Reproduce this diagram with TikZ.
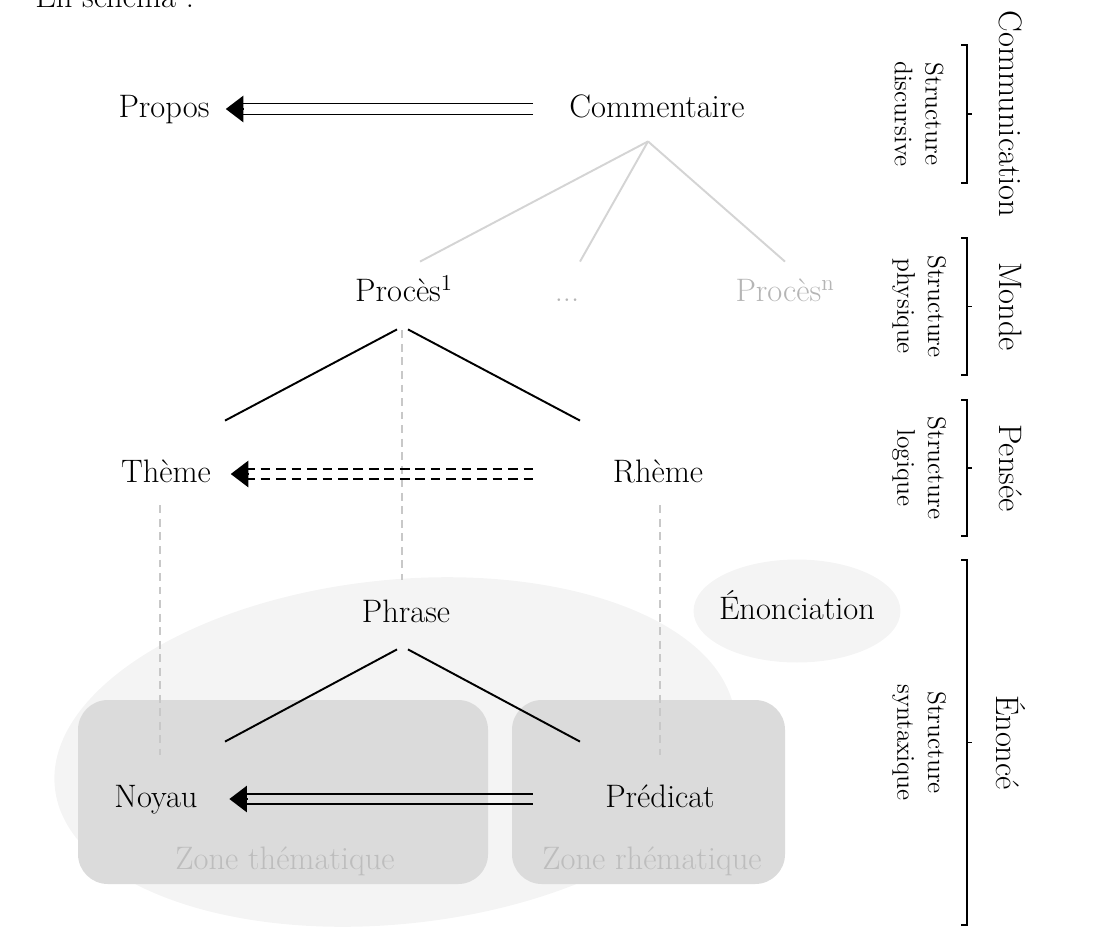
\documentclass[tikz,border=0pt]{standalone}
\usepackage{fontspec}
\usepackage{tikz}
\usetikzlibrary{arrows.meta,calc,shapes.geometric}

\definecolor{bggray}{HTML}{F4F4F4}
\definecolor{zonegray}{HTML}{DBDBDB}
\definecolor{zonetext}{HTML}{BDBDBD}
\definecolor{linegray}{HTML}{D4D4D4}
\definecolor{dashgray}{HTML}{C8C8C8}
\definecolor{fadetext}{HTML}{B5B5B5}

\tikzset{
	lbl/.style={inner sep=0pt, text height=13pt, text depth=3pt, font=\fontsize{18.5}{22}\selectfont},
	branch/.style={line width=1.1pt},
	faint/.style={draw=linegray, line width=1.1pt},
	guide/.style={draw=dashgray, line width=1.1pt, dash pattern=on 4.5pt off 3.2pt},
	rail/.style={line width=1pt},
	dashrail/.style={line width=1pt, dash pattern=on 5.5pt off 3.3pt},
	tip/.style={-{Triangle[length=10pt,width=15pt]}, line width=1pt},
	brace/.style={line width=1.1pt},
	side/.style={font=\fontsize{18.5}{22}\selectfont, rotate=-90, inner sep=0pt},
	sub/.style={font=\fontsize{14.5}{17.5}\selectfont, rotate=-90, align=center, inner sep=0pt},
}

\begin{document}
\begin{tikzpicture}[x=0.02cm, y=-0.02cm]
	\useasboundingbox (0,0) rectangle (1097,936);

	% fonds
	\fill[bggray] (395,752) ellipse [x radius=342, y radius=172, rotate=6];
	\fill[zonegray, rounded corners=17pt] (78,700) rectangle (488,884);
	\fill[zonegray, rounded corners=17pt] (512,700) rectangle (785,884);

	\node[lbl, anchor=base west] (intro) at (35,8) {En schéma :};

	\node[lbl] (propos) at (164,109) {Propos};
	\node[lbl] (commentaire) at (657,109) {Commentaire};
	\node[lbl] (proces1) at (404,293) {Procès\textsuperscript{1}};
	\node[lbl, text=fadetext] (dots) at (567,293) {...};
	\node[lbl, text=fadetext] (procesn) at (785,293) {Procès\textsuperscript{n}};
	\node[lbl] (theme) at (166,474) {Thème};
	\node[lbl] (rheme) at (658,474) {Rhème};
	\node[lbl] (phrase) at (406,614) {Phrase};
	\node[lbl, ellipse, fill=bggray, inner xsep=-10pt, minimum width=4.14cm, minimum height=2.06cm] (enonc) at (797,611) {Énonciation};
	\node[lbl] (noyau) at (156,799) {Noyau};
	\node[lbl] (predicat) at (660,799) {Prédicat};
	\node[lbl, text=zonetext] (zthem) at (285,861) {Zone thématique};
	\node[lbl, text=zonetext] (zrhem) at (652,861) {Zone rhématique};

	% pointilles verticaux
	\draw[guide] ($(proces1.south)+(-2,23)$) -- ($(phrase.north)+(-4,-20)$);
	\draw[guide] ($(theme.south)+(-6,17)$) -- ($(noyau.north)+(4,-30)$);
	\draw[guide] ($(rheme.south)+(2,17)$) -- ($(predicat.north)+(0,-30)$);

	% arbre
	\draw[faint] ($(commentaire.south)+(-9,18)$) -- ($(proces1.north)+(16,-17)$);
	\draw[faint] ($(commentaire.south)+(-9,18)$) -- ($(dots.north)+(13,-17)$);
	\draw[faint] ($(commentaire.south)+(-9,18)$) -- ($(procesn.north)+(0,-17)$);
	\draw[branch] ($(proces1.south)+(-7,22)$) -- ($(theme.north)+(59,-39)$);
	\draw[branch] ($(proces1.south)+(4,22)$) -- ($(rheme.north)+(-78,-39)$);
	\draw[branch] ($(phrase.south)+(-9,21)$) -- ($(noyau.north)+(69,-43)$);
	\draw[branch] ($(phrase.south)+(2,21)$) -- ($(predicat.north)+(-80,-43)$);

	% fleches doubles
	\draw[rail] ($(commentaire.west)+(-36,-5.5)$) -- ($(propos.east)+(30,-5.5)$);
	\draw[rail] ($(commentaire.west)+(-36,5.5)$) -- ($(propos.east)+(30,5.5)$);
	\draw[tip] ($(propos.east)+(34,0)$) -- ($(propos.east)+(16,0)$);

	\draw[dashrail] ($(theme.east)+(34,-5)$) -- ($(rheme.west)+(-80,-5)$);
	\draw[dashrail] ($(theme.east)+(34,5)$) -- ($(rheme.west)+(-80,5)$);
	\draw[tip] ($(theme.east)+(37.5,0)$) -- ($(theme.east)+(19.5,0)$);

	\draw[rail] ($(predicat.west)+(-72,-5)$) -- ($(noyau.east)+(46,-5)$);
	\draw[rail] ($(predicat.west)+(-72,5)$) -- ($(noyau.east)+(46,5)$);
	\draw[tip] ($(noyau.east)+(49.5,0)$) -- ($(noyau.east)+(31.5,0)$);

	% niveaux
	\foreach \top/\bot/\outer/\inner in {45/183/Communication/discursive, 238/375/Monde/physique, 400/536/Pensée/logique, 560/925/Énoncé/syntaxique} {
		\draw[brace] (961,\top) -- (967,\top) -- (967,\bot) -- (961,\bot);
		\draw[brace] (967,{(\top+\bot)/2}) -- (972,{(\top+\bot)/2});
		\node[side] (dom\top) at (1011,{(\top+\bot)/2}) {\outer};
		\node[sub] (str\top) at (919,{(\top+\bot)/2}) {Structure\\\inner};
	}
\end{tikzpicture}
\end{document}
